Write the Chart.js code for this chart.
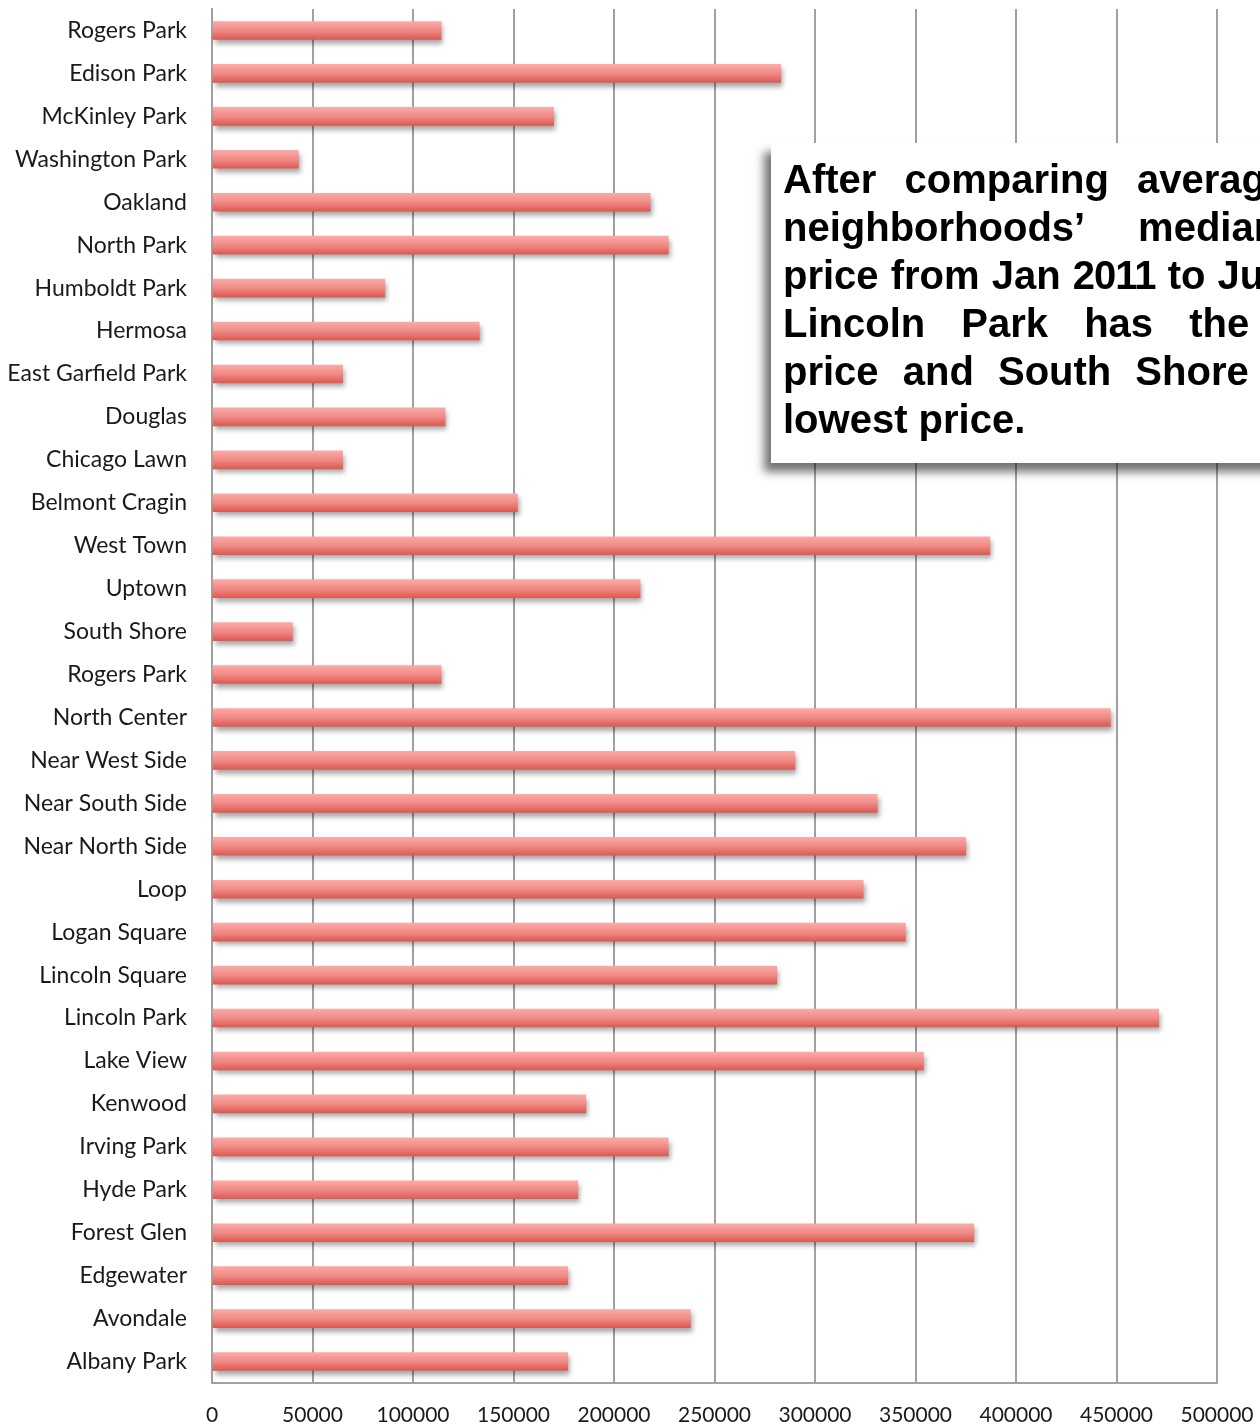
<!DOCTYPE html>
<html>
<head>
<meta charset="utf-8">
<script src="https://cdn.jsdelivr.net/npm/chart.js@4/dist/chart.umd.min.js"></script>
<style>
  html, body { margin: 0; padding: 0; background: #fff; overflow: hidden; }
  #wrap { position: relative; width: 1260px; height: 1425px; overflow: hidden; }
  #note {
    position: absolute; left: 771px; top: 143px; width: 700px; height: 320px;
    background: #fff; box-shadow: -7px 9px 9px rgba(0,0,0,0.55);
    font-family: "Liberation Sans", Arial, sans-serif; font-weight: bold;
    font-size: 40px; line-height: 48px; color: #000; padding: 12px 0 0 12px; box-sizing: border-box;
  }
  #note div { white-space: nowrap; }
</style>
</head>
<body>
<div id="wrap">
  <canvas id="chart" width="1260" height="1425"></canvas>
  <div id="note">
    <div style="word-spacing:17px">After comparing average the</div>
    <div style="word-spacing:44px">neighborhoods’ median sale</div>
    <div style="word-spacing:1px">price from Jan <span style="letter-spacing:-1px">2011</span> to Jun 2013,</div>
    <div style="word-spacing:25px">Lincoln Park has the highest</div>
    <div style="word-spacing:13px">price and South Shore has the</div>
    <div>lowest price.</div>
  </div>
</div>
<script>
(() => {
  'use strict';

  const neighborhoods = [
    'Rogers Park', 'Edison Park', 'McKinley Park', 'Washington Park', 'Oakland',
    'North Park', 'Humboldt Park', 'Hermosa', 'East Garfield Park', 'Douglas',
    'Chicago Lawn', 'Belmont Cragin', 'West Town', 'Uptown', 'South Shore',
    'Rogers Park', 'North Center', 'Near West Side', 'Near South Side', 'Near North Side',
    'Loop', 'Logan Square', 'Lincoln Square', 'Lincoln Park', 'Lake View',
    'Kenwood', 'Irving Park', 'Hyde Park', 'Forest Glen', 'Edgewater',
    'Avondale', 'Albany Park'
  ];

  const medianPrice = [
    114000, 283000, 170000, 43000, 218000,
    227000, 86000, 133000, 65000, 116000,
    65000, 152000, 387000, 213000, 40000,
    114000, 447000, 290000, 331000, 375000,
    324000, 345000, 281000, 471000, 354000,
    186000, 227000, 182000, 379000, 177000,
    238000, 177000
  ];

  const X_MIN = 0;
  const X_MAX = 500000;
  const X_STEP = 50000;

  const GRID = '#a0a0a0';
  const BAR_H = 18;

  // light top, darker bottom like the original bevel
  function barFill(ctx) {
    const chart = ctx.chart;
    const y = chart.scales && chart.scales.y;
    if (!y || ctx.dataIndex === undefined) return '#ef7f7a';
    const cy = y.getPixelForValue(ctx.dataIndex);
    if (!isFinite(cy)) return '#ef7f7a';
    const g = chart.ctx.createLinearGradient(0, cy - BAR_H / 2, 0, cy + BAR_H / 2);
    g.addColorStop(0, '#fcaaa6');
    g.addColorStop(0.5, '#f08a85');
    g.addColorStop(1, '#dc5a52');
    return g;
  }

  const barShadow = {
    id: 'barShadow',
    beforeDatasetsDraw(chart) {
      const c = chart.ctx;
      c.save();
      c.shadowColor = 'rgba(0,0,0,0.35)';
      c.shadowOffsetX = 2;
      c.shadowOffsetY = 4;
      c.shadowBlur = 5;
    },
    afterDatasetsDraw(chart) {
      chart.ctx.restore();
    }
  };

  new Chart(document.getElementById('chart').getContext('2d'), {
    type: 'bar',
    data: {
      labels: neighborhoods,
      datasets: [{
        data: medianPrice,
        backgroundColor: barFill,
        borderWidth: 0,
        barThickness: BAR_H
      }]
    },
    plugins: [barShadow],
    options: {
      indexAxis: 'y',
      responsive: false,
      animation: false,
      devicePixelRatio: 1,
      layout: { padding: { top: 9, right: 43, left: 0, bottom: 0 } },
      scales: {
        x: {
          min: X_MIN,
          max: X_MAX,
          afterFit: s => {
            s.height = 42;
            s.paddingLeft = 0;
            s.paddingRight = 0;
          },
          afterBuildTicks: s => {
            const t = [];
            for (let v = X_MIN; v <= X_MAX; v += X_STEP) t.push({ value: v });
            s.ticks = t;
          },
          grid: { color: GRID, lineWidth: 2, drawTicks: false },
          border: { color: GRID, width: 2 },
          ticks: {
            padding: 20,
            color: '#1a1a1a',
            maxRotation: 0,
            autoSkip: false,
            font: { family: 'Lato', size: 21 },
            callback: v => String(v)
          }
        },
        y: {
          afterFit: s => {
            s.width = 212;
            s.paddingTop = 0;
            s.paddingBottom = 0;
          },
          grid: { display: false },
          border: { color: GRID, width: 2 },
          ticks: {
            padding: 17,
            color: '#1a1a1a',
            autoSkip: false,
            font: { family: 'Lato', size: 23 }
          }
        }
      },
      plugins: {
        legend: { display: false },
        tooltip: { enabled: false }
      }
    }
  });
})();
</script>
</body>
</html>
